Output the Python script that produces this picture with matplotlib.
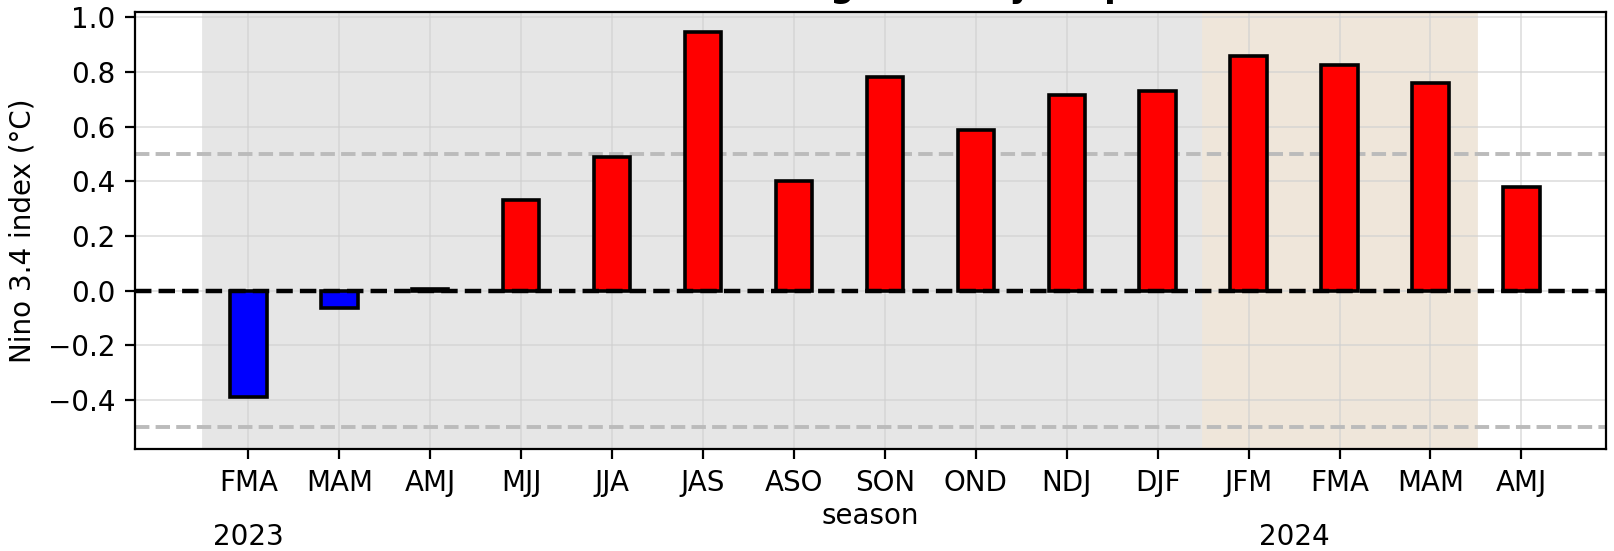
import matplotlib.pyplot as plt

# Nino 3.4 index per 3-month season, FMA 2023 to AMJ 2024
seasons = ['FMA', 'MAM', 'AMJ', 'MJJ', 'JJA', 'JAS', 'ASO', 'SON',
           'OND', 'NDJ', 'DJF', 'JFM', 'FMA', 'MAM', 'AMJ']
nino34 = [-0.39, -0.065, 0.005, 0.33, 0.487, 0.948, 0.402, 0.782,
          0.587, 0.717, 0.731, 0.858, 0.825, 0.758, 0.38]
years = ['2023', '2024']
year_pos = [0, 11.5]

plt.rcParams['font.size'] = 10

fig = plt.figure(figsize=(8.07, 2.755), dpi=200)
ax = fig.add_axes([0.0835, 0.185, 0.9115, 0.7925])

x = list(range(len(seasons)))
colors = ['red' if v > 0 else 'blue' for v in nino34]

# Shade the El Nino development period and the following year
ax.axvspan(-0.5, 10.5, color='#e6e6e6', zorder=0)
ax.axvspan(10.5, 13.5, color='#efe6da', zorder=0)

ax.grid(True, color='#d0d0d0', linewidth=0.6, alpha=0.7, zorder=1)
ax.set_axisbelow(True)

ax.bar(x, nino34, width=0.4, color=colors, edgecolor='black', linewidth=1.3, zorder=3)

ax.axhline(0, color='black', linestyle='--', linewidth=1.6, zorder=4)
ax.axhline(0.5, color='#bbbbbb', linestyle='--', linewidth=1.4, zorder=2)
ax.axhline(-0.5, color='#bbbbbb', linestyle='--', linewidth=1.4, zorder=2)

ax.set_xticks(x)
ax.set_xticklabels(seasons)
ax.set_xlim(-1.25, 14.93)
ax.set_ylim(-0.58, 1.018)
ax.set_yticks([-0.4, -0.2, 0.0, 0.2, 0.4, 0.6, 0.8, 1.0])

ax.set_xlabel('season', labelpad=2)
ax.set_ylabel('Nino 3.4 index (°C)')

# Year markers below the season labels
for label, pos in zip(years, year_pos):
    ax.text(pos, -0.9, label, ha='center', va='center')

# Title sits above the top edge of the canvas
fig.text(0.539, 1 + 2.5 / 551, 'Nino 3.4 index during El Nino year peak time',
         ha='center', va='baseline', fontsize=12, fontweight='bold')

fig.savefig('out.png', dpi=200)
